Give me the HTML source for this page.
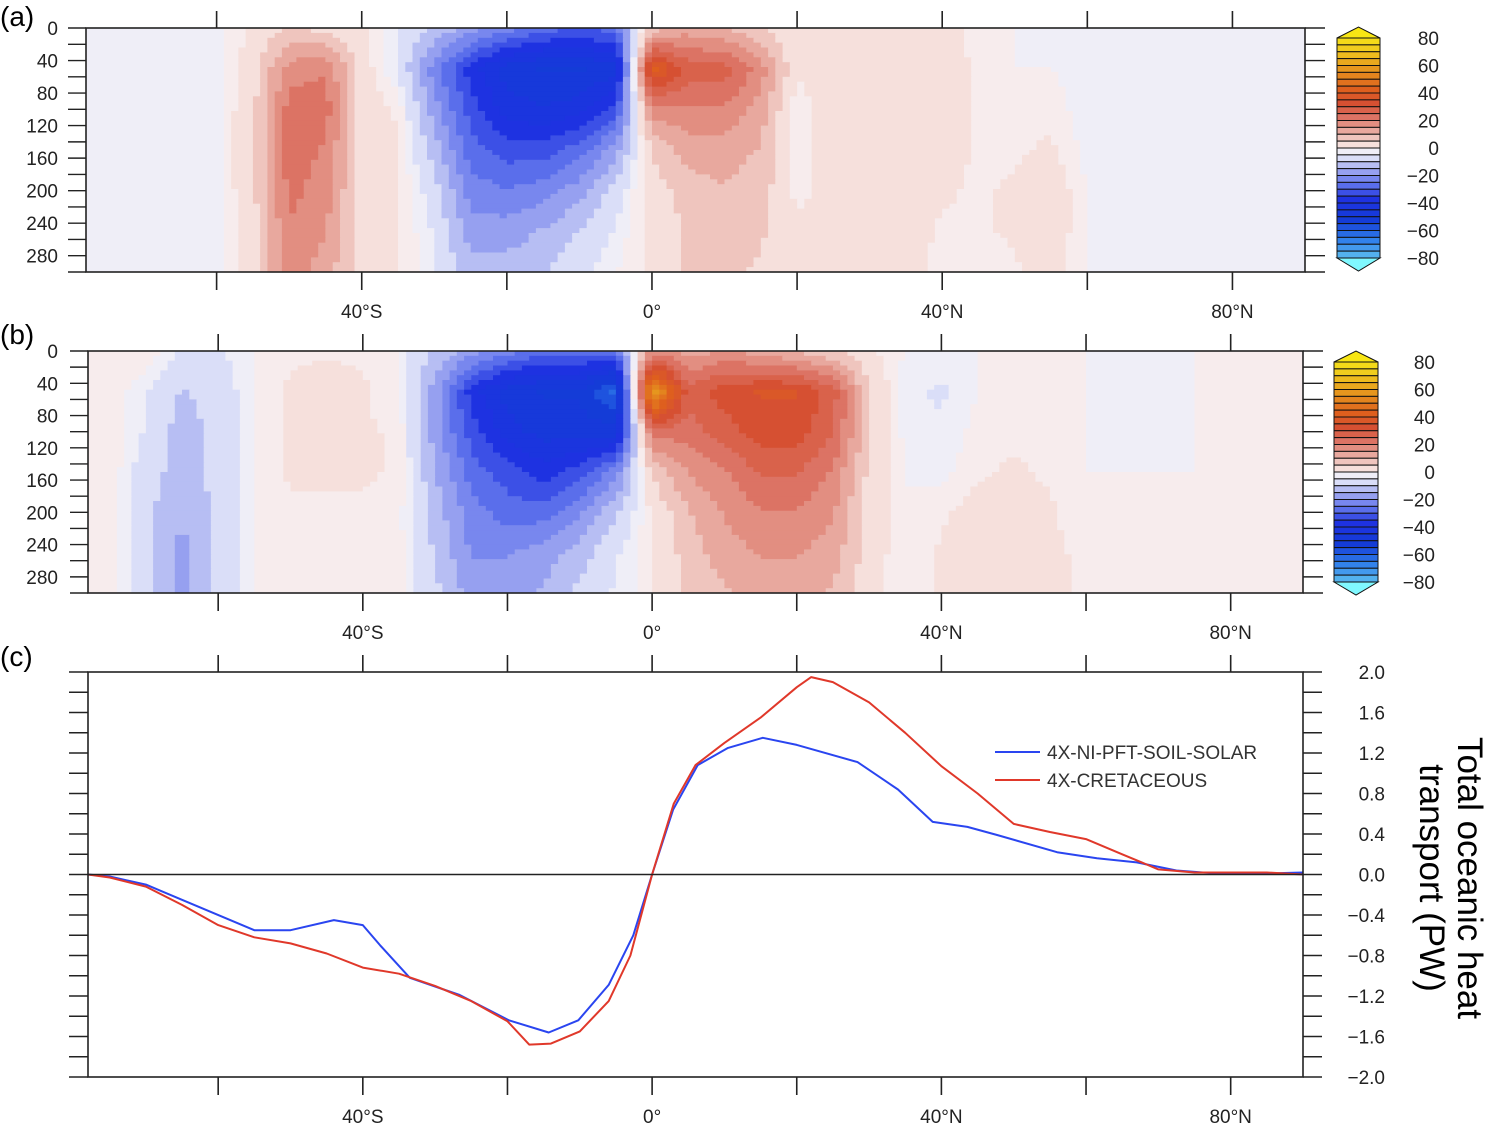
<!DOCTYPE html>
<html><head><meta charset="utf-8">
<style>
html,body{margin:0;padding:0;background:#fff;}
svg{display:block;font-family:"Liberation Sans",sans-serif;}
</style></head>
<body>
<svg id="chart" width="1488" height="1126" viewBox="0 0 1488 1126" xmlns="http://www.w3.org/2000/svg">
<g id="pa"></g>
<g id="pb"></g>
<g id="pc"></g>
<g id="axes"></g>
<text x="0" y="26" font-size="28">(a)</text>
<text x="0" y="344" font-size="28">(b)</text>
<text x="0" y="666" font-size="28">(c)</text>
<g>
<line x1="995" y1="752" x2="1040" y2="752" stroke="#2a45f0" stroke-width="2"/>
<text x="1047" y="759" font-size="19" fill="#333">4X-NI-PFT-SOIL-SOLAR</text>
<line x1="995" y1="780" x2="1040" y2="780" stroke="#e0382a" stroke-width="2"/>
<text x="1047" y="787" font-size="19" fill="#333">4X-CRETACEOUS</text>
</g>
<g transform="translate(1446,878) rotate(90)">
<text x="0" y="-12" font-size="35" text-anchor="middle">Total oceanic heat</text>
<text x="0" y="26" font-size="35" text-anchor="middle">transport (PW)</text>
</g>
</svg>
<script>
const lats=[-75,-70,-65,-60,-55,-50,-45,-40,-35,-30,-25,-20,-15,-10,-5,0,5,10,15,20,25,30,35,40,45,50,55,60,65,70,75,80,85,90];
const depths=[0,50,100,150,200,250,300];
const gridA=[
[-2,-2,-2,-1,3,8,6,3,-3,-8,-15,-20,-25,-28,-25,10,15,12,8,3,4,4,4,3,2,0,-1,-2,-2,-2,-2,-2,-2,-2],
[-2,-2,-2,-1,5,20,22,5,-3,-20,-35,-45,-48,-48,-45,45,30,30,20,3,6,6,5,4,2,0,0,-2,-2,-2,-2,-2,-2,-2],
[-2,-2,-2,-1,6,25,25,5,2,-15,-30,-40,-42,-40,-30,20,22,22,15,0,6,6,5,4,2,1,2,-2,-2,-2,-2,-2,-2,-2],
[-2,-2,-2,-1,6,25,22,5,3,-10,-25,-30,-30,-25,-15,8,15,15,12,0,5,6,5,4,2,2,3,-1,-2,-2,-2,-2,-2,-2],
[-2,-2,-2,-1,6,24,20,5,3,-5,-20,-22,-20,-15,-5,5,10,12,10,1,5,5,5,3,2,3,5,0,-2,-2,-2,-2,-2,-2],
[-2,-2,-2,-1,5,22,18,5,3,-3,-15,-15,-12,-7,-2,4,8,10,8,4,5,5,4,2,2,3,5,0,-2,-2,-2,-2,-2,-2],
[-2,-2,-2,-1,5,20,15,5,3,-2,-10,-10,-8,-4,0,3,8,8,7,5,5,4,3,2,1,2,4,0,-2,-2,-2,-2,-2,-2]];
const gridB=[
[2,2,-3,-3,0,2,2,2,0,-8,-15,-20,-25,-25,-25,20,15,18,15,12,8,3,0,-1,0,1,1,0,-1,-1,0,1,2,2],
[2,-2,-8,-5,0,3,4,3,0,-15,-35,-45,-48,-48,-60,65,30,35,38,38,30,8,-2,-3,0,1,1,0,-2,-2,0,1,2,2],
[2,-3,-10,-6,0,3,5,3,2,-15,-30,-40,-45,-45,-45,25,25,30,35,35,28,8,-1,-2,1,2,1,0,-1,-1,0,1,2,2],
[2,-5,-10,-6,0,3,3,3,2,-12,-25,-30,-35,-30,-20,8,18,22,28,28,22,6,0,-1,2,3,2,0,0,0,0,1,2,2],
[2,-6,-12,-6,0,2,2,2,1,-10,-20,-25,-25,-18,-8,3,12,18,22,22,18,5,0,2,4,4,3,0,0,0,0,1,2,2],
[2,-6,-14,-6,0,2,2,2,1,-8,-18,-18,-15,-10,-3,2,10,15,18,18,15,5,0,3,5,5,4,1,0,0,0,1,2,2],
[2,-6,-14,-6,0,2,2,2,1,-6,-15,-15,-12,-6,-2,2,8,12,15,15,12,4,0,3,5,5,4,1,0,0,0,1,2,2]];
const blueLat=[-78,-75,-70,-65,-55,-50,-44,-40,-37.6,-33.5,-26.6,-19.8,-14.3,-10.2,-6,-2.6,0,2.9,6.3,10.5,15.3,20,28.4,34,38.8,43.6,47.7,56,61.5,67,72.5,78,85,90];
const blueVal=[0,-0.02,-0.1,-0.25,-0.55,-0.55,-0.45,-0.5,-0.7,-1.02,-1.19,-1.44,-1.56,-1.44,-1.09,-0.6,0,0.64,1.08,1.25,1.35,1.28,1.11,0.84,0.52,0.47,0.39,0.22,0.16,0.12,0.04,0.01,0.01,0.02];
const redLat=[-78,-75,-70,-65,-60,-55,-50,-45,-40,-35,-30,-25,-20,-17,-14,-10,-6,-3,0,3,6,10,15,20,22,25,30,35,40,45,50,55,60,65,70,75,85,90];
const redVal=[0,-0.03,-0.12,-0.3,-0.5,-0.62,-0.68,-0.78,-0.92,-0.98,-1.1,-1.25,-1.45,-1.68,-1.67,-1.55,-1.25,-0.8,0,0.7,1.08,1.3,1.55,1.85,1.95,1.9,1.7,1.4,1.07,0.8,0.5,0.42,0.35,0.2,0.05,0.02,0.02,0];
const cbLabels=["80","60","40","20","0","\u221220","\u221240","\u221260","\u221280"];
const cLabelsR=["2.0","1.6","1.2","0.8","0.4","0.0","\u22120.4","\u22120.8","\u22121.2","\u22121.6","\u22122.0"];
const xLabels=["40\u00b0S","0\u00b0","40\u00b0N","80\u00b0N"];
const xLabelLats=[-40,0,40,80];

const NS="http://www.w3.org/2000/svg";
function mk(tag,attrs,parent){const e=document.createElementNS(NS,tag);for(const k in attrs)e.setAttribute(k,attrs[k]);parent.appendChild(e);return e;}
const stops=[[-85,[128,248,255]],[-80,[100,200,240]],[-65,[50,130,235]],[-50,[20,60,215]],[-35,[30,50,225]],[-25,[90,110,235]],[-15,[150,160,240]],[-7.5,[200,205,245]],[-2.5,[236,238,251]],[2.5,[250,236,233]],[7.5,[242,212,206]],[15,[232,168,158]],[25,[220,115,100]],[35,[214,80,50]],[45,[222,95,30]],[60,[230,150,30]],[75,[240,205,30]],[85,[248,230,20]]];
function col(v){
  if(v<=stops[0][0])return stops[0][1];
  for(let i=1;i<stops.length;i++){if(v<=stops[i][0]){const a=stops[i-1],b=stops[i],t=(v-a[0])/(b[0]-a[0]);return a[1].map((c,j)=>Math.round(c+(b[1][j]-c)*t));}}
  return stops[stops.length-1][1];
}
function binColor(v){
  let b=Math.floor((v+2.5)/5);let c=b*5; if(c>82)c=85; if(c<-82)c=-85;
  if(Math.abs(c)<1)c=v>=0?1.5:-1.5;
  const k=col(c);return `rgb(${k[0]},${k[1]},${k[2]})`;
}
function interp(grid,lat,d){
  let la=Math.max(lats[0],Math.min(90,lat));
  let i=Math.min(lats.length-2,Math.floor((la-lats[0])/5));let tx=(la-lats[i])/5;
  let j=Math.min(depths.length-2,Math.floor(d/50));let ty=(d-depths[j])/50;
  const a=grid[j][i],b=grid[j][i+1],c=grid[j+1][i],e=grid[j+1][i+1];
  return (a*(1-tx)+b*tx)*(1-ty)+(c*(1-tx)+e*tx)*ty;
}
function heat(g,grid,x0,x1,y0,y1){
  const xs=l=>x0+(l+78)/168*(x1-x0), ys=d=>y0+d/300*(y1-y0);
  const dl=1,dd=6;
  for(let d=0;d<300;d+=dd){
    let runStart=-78,runCol=null;
    for(let l=-78;l<=90;l+=dl){
      const c=l<90?binColor(interp(grid,l+dl/2,d+dd/2)):null;
      if(c!==runCol){
        if(runCol){const r=mk('rect',{x:xs(runStart).toFixed(1),y:ys(d).toFixed(1),width:(xs(l)-xs(runStart)+0.6).toFixed(1),height:(ys(d+dd)-ys(d)+0.6).toFixed(1),fill:runCol},g);
          
          }
        runStart=l;runCol=c;
      }
    }
  }
}
heat(document.getElementById('pa'),gridA,86,1305,28,272);
heat(document.getElementById('pb'),gridB,88,1303,351,593);

const ax=document.getElementById('axes');
function frame(x0,x1,y0,y1,name){
  const r=mk('rect',{x:x0,y:y0,width:x1-x0,height:y1-y0,fill:'none',stroke:'#222','stroke-width':1.6},ax);
  
  const xs=l=>x0+(l+78)/168*(x1-x0);
  for(let l=-60;l<=80;l+=20){
    mk('line',{x1:xs(l),x2:xs(l),y1:y0-17,y2:y0,stroke:'#222','stroke-width':1.6},ax);
    mk('line',{x1:xs(l),x2:xs(l),y1:y1,y2:y1+18,stroke:'#222','stroke-width':1.6},ax);
  }
  xLabelLats.forEach((l,i)=>{const t=mk('text',{x:xs(l),y:y1+46,'font-size':19,'text-anchor':'middle',fill:'#222'},ax);t.textContent=xLabels[i];
    });
  return xs;
}
function depthAxis(x0,x1,y0,y1){
  const ys=d=>y0+d/300*(y1-y0);
  for(let d=0;d<=300;d+=20){
    mk('line',{x1:x0-18,x2:x0,y1:ys(d),y2:ys(d),stroke:'#222','stroke-width':1.4},ax);
    mk('line',{x1:x1,x2:x1+20,y1:ys(d),y2:ys(d),stroke:'#222','stroke-width':1.4},ax);
  }
  for(let d=0;d<=280;d+=40){const t=mk('text',{x:58,y:ys(d)+7,'font-size':19,'text-anchor':'end',fill:'#222'},ax);t.textContent=String(d);
    }
}
function colorbar(x0,x1,top,bot,lx,name){
  const g=mk('g',{},ax);
  const ys=v=>top+(80-v)/160*(bot-top);
  for(let v=80;v>-80;v-=5){
    mk('rect',{x:x0,y:ys(v),width:x1-x0,height:ys(v-5)-ys(v),fill:binColor(v-2.5),stroke:'#111','stroke-width':1},g);
  }
  const m=(x0+x1)/2;
  mk('polygon',{points:`${x0},${top} ${m},${top-11} ${x1},${top}`,fill:'rgb(248,230,20)',stroke:'#111','stroke-width':1},g);
  mk('polygon',{points:`${x0},${bot} ${m},${bot+13} ${x1},${bot}`,fill:'rgb(128,248,255)',stroke:'#111','stroke-width':1},g);
  cbLabels.forEach((s,i)=>{const t=mk('text',{x:lx,y:ys(80-20*i)+7,'font-size':19,'text-anchor':'end',fill:'#222'},g);t.textContent=s;});
}
frame(86,1305,28,272,'panel-a-frame');depthAxis(86,1305,28,272);colorbar(1337,1380,38,258,1439,'colorbar-a');
frame(88,1303,351,593,'panel-b-frame');depthAxis(88,1303,351,593);colorbar(1334,1378,362,582,1435,'colorbar-b');
const xsc=frame(88,1303,672,1077,'panel-c-frame');
const ysc=v=>672+(2-v)/4*405;
for(let v=-2;v<=2.001;v+=0.2){
  mk('line',{x1:69,x2:88,y1:ysc(v),y2:ysc(v),stroke:'#222','stroke-width':1.4},ax);
  mk('line',{x1:1303,x2:1322,y1:ysc(v),y2:ysc(v),stroke:'#222','stroke-width':1.4},ax);
}
cLabelsR.forEach((s,i)=>{const t=mk('text',{x:1385,y:ysc(2-0.4*i)+7,'font-size':19,'text-anchor':'end',fill:'#222'},ax);t.textContent=s;
  });
const zl=mk('line',{x1:88,x2:1303,y1:ysc(0),y2:ysc(0),stroke:'#222','stroke-width':1.4},ax);

const pc=document.getElementById('pc');
const pb=mk('polyline',{points:blueLat.map((l,i)=>xsc(l).toFixed(1)+','+ysc(blueVal[i]).toFixed(1)).join(' '),fill:'none',stroke:'#2a45f0','stroke-width':2,'stroke-linejoin':'round'},pc);

const pr=mk('polyline',{points:redLat.map((l,i)=>xsc(l).toFixed(1)+','+ysc(redVal[i]).toFixed(1)).join(' '),fill:'none',stroke:'#e0382a','stroke-width':2,'stroke-linejoin':'round'},pc);

</script>
</body></html>
